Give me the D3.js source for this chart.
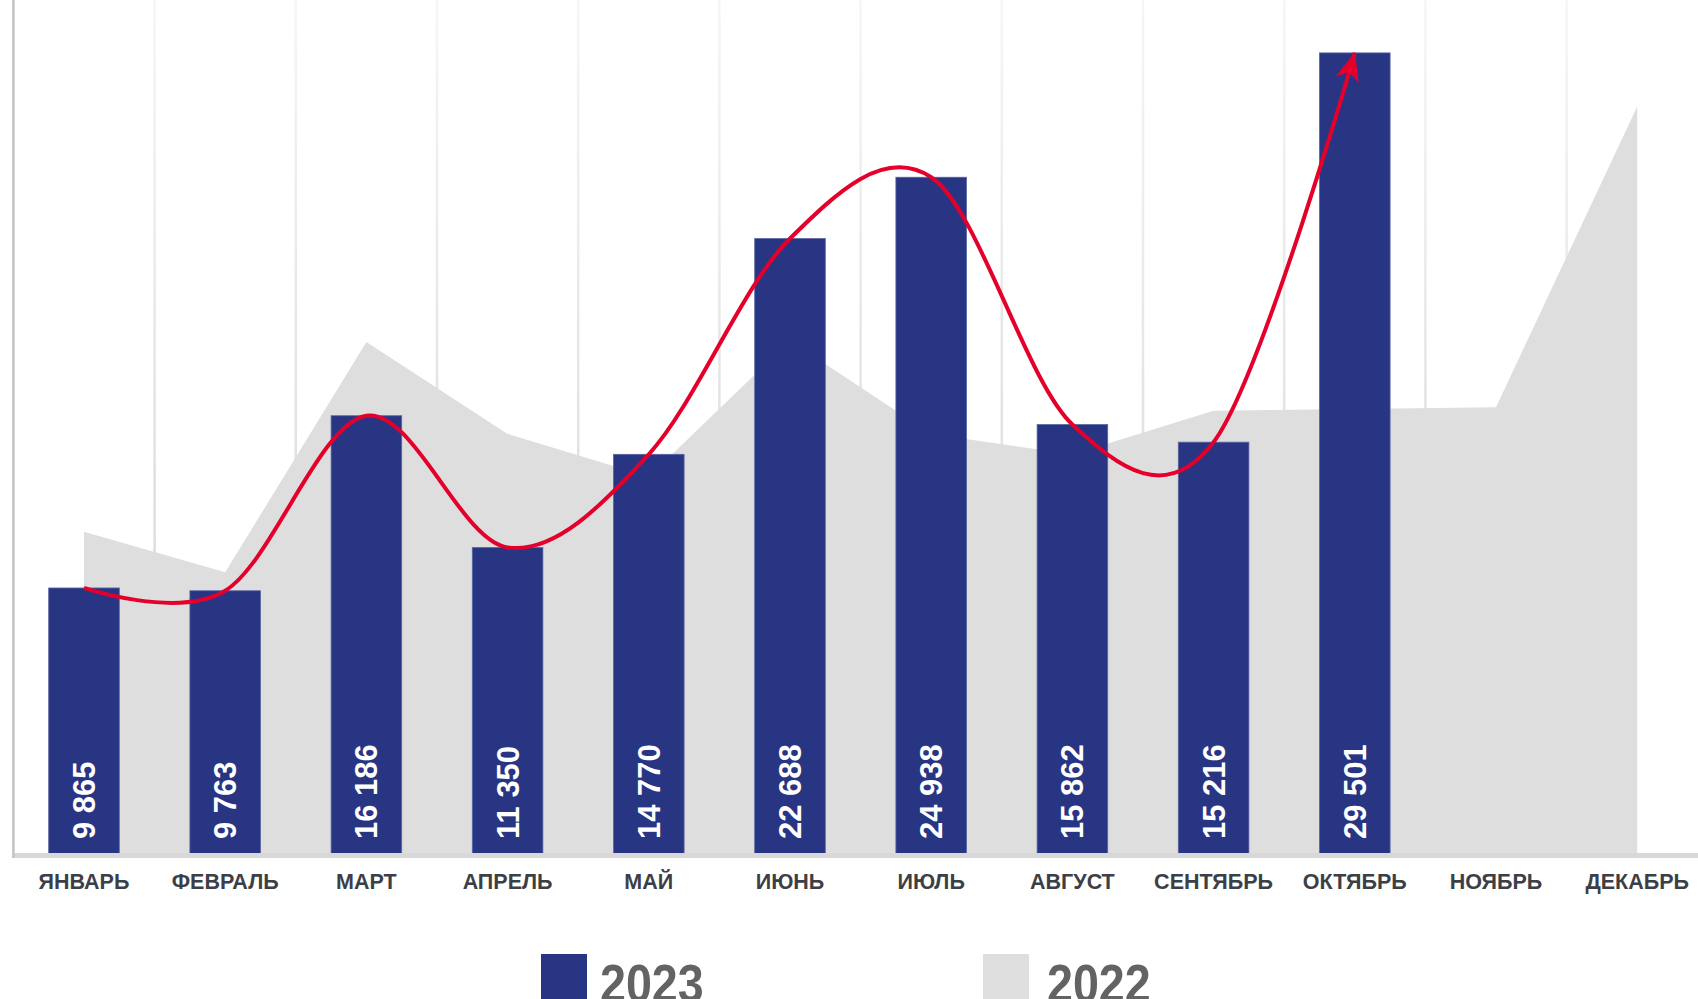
<!DOCTYPE html>
<html>
<head>
<meta charset="utf-8">
<script src="https://cdn.jsdelivr.net/npm/d3@7"></script>
<style>
  body { margin: 0; background: #fff; }
  svg { display: block; }
</style>
</head>
<body>
<div id="content"></div>
<script>
// months, 2023 bars, 2022 background area
let months = ["ЯНВАРЬ", "ФЕВРАЛЬ", "МАРТ", "АПРЕЛЬ", "МАЙ", "ИЮНЬ", "ИЮЛЬ",
              "АВГУСТ", "СЕНТЯБРЬ", "ОКТЯБРЬ", "НОЯБРЬ", "ДЕКАБРЬ"];
let values2023 = [9865, 9763, 16186, 11350, 14770, 22688, 24938, 15862, 15216, 29501];
let values2022 = [11930, 10440, 18890, 15520, 13950, 18940, 15520, 14760, 16370, 16430, 16500, 27530];
let legendLabels = ["2023", "2022"];

let width = 1698;
let height = 999;
let blue = "#283583";
let grey = "#dedede";
let red = "#e4002b";

let svg = d3.select("#content").append("svg")
            .attr("width", width)
            .attr("height", height);

let x = d3.scaleBand().domain(months).range([13.4, 1707.8])
          .paddingInner(0.5).paddingOuter(0.25);
let y = d3.scaleLinear().domain([0, 31442]).range([856.8, 0]);
let bw = x.bandwidth();
let step = x.step();
let cx = d => x(d) + bw / 2;

let fmt = d3.formatLocale({decimal: ",", thousands: " ", grouping: [3], currency: ["", ""]}).format(",");

// gradient for the vertical grid lines
let defs = svg.append("defs");
let grad = defs.append("linearGradient").attr("id", "gridfade")
               .attr("gradientUnits", "userSpaceOnUse")
               .attr("x1", 0).attr("y1", 0).attr("x2", 0).attr("y2", 856);
grad.append("stop").attr("offset", "0%").attr("stop-color", "#f6f6f6");
grad.append("stop").attr("offset", "100%").attr("stop-color", "#cfcfcf");

defs.append("marker")
    .attr("id", "arrow")
    .attr("markerUnits", "userSpaceOnUse")
    .attr("viewBox", "-30 -14 32 28")
    .attr("markerWidth", 32).attr("markerHeight", 28)
    .attr("refX", -1).attr("refY", 0)
    .attr("orient", "auto")
  .append("path")
    .attr("d", "M0,0 L-29,-12 L-21,0 L-29,12 Z")
    .attr("fill", red);

// grid lines at band boundaries
svg.append("g").selectAll("line")
   .data(months.slice(1))
   .join("line")
   .attr("x1", d => cx(d) - step / 2).attr("x2", d => cx(d) - step / 2)
   .attr("y1", 0).attr("y2", y(0))
   .attr("stroke", "url(#gridfade)")
   .attr("stroke-width", 2.5);

// 2022 area
let area = d3.area()
             .x((d, i) => cx(months[i]))
             .y0(y(0))
             .y1(d => y(d));
svg.append("path")
   .datum(values2022)
   .attr("d", area)
   .attr("fill", grey);

// 2023 bars
svg.append("g").selectAll("rect")
   .data(values2023)
   .join("rect")
   .attr("x", (d, i) => x(months[i]))
   .attr("y", d => y(d))
   .attr("width", bw)
   .attr("height", d => y(0) - y(d))
   .attr("fill", blue)
   .attr("stroke", "#5b64a3")
   .attr("stroke-width", 0.8);

// value labels inside bars
svg.append("g").selectAll("text")
   .data(values2023)
   .join("text")
   .attr("transform", (d, i) => `translate(${cx(months[i]) + 11},839) rotate(-90)`)
   .attr("font-family", "'Liberation Sans', Arial, sans-serif")
   .attr("font-weight", "bold")
   .attr("font-size", 31)
   .attr("fill", "#fff")
   .text(d => fmt(d));

// axes lines
svg.append("line")
   .attr("x1", 13).attr("x2", width)
   .attr("y1", 855.5).attr("y2", 855.5)
   .attr("stroke", "#d8d8d8").attr("stroke-width", 5);
svg.append("line")
   .attr("x1", 13.4).attr("x2", 13.4)
   .attr("y1", 0).attr("y2", 858)
   .attr("stroke", "#c4c4c4").attr("stroke-width", 2.5);

// month labels
svg.append("g").selectAll("text")
   .data(months)
   .join("text")
   .attr("x", d => cx(d))
   .attr("y", 889)
   .attr("text-anchor", "middle")
   .attr("font-family", "'Liberation Sans', Arial, sans-serif")
   .attr("font-weight", "bold")
   .attr("font-size", 21.5)
   .attr("fill", "#3d3f47")
   .text(d => d);

// red trend curve through bar tops
let trend = d3.line()
              .x((d, i) => cx(months[i]))
              .y(d => y(d))
              .curve(d3.curveCardinal.tension(0));
svg.append("path")
   .datum(values2023)
   .attr("d", trend)
   .attr("fill", "none")
   .attr("stroke", red)
   .attr("stroke-width", 4)
   .attr("marker-end", "url(#arrow)");

// legend (cut by the bottom edge, as in the original)
let legend = svg.append("g").selectAll("g")
   .data(legendLabels)
   .join("g")
   .attr("transform", (d, i) => `translate(${[541, 983][i]},954)`);
legend.append("rect")
   .attr("width", 46).attr("height", 46)
   .attr("fill", (d, i) => i == 0 ? blue : grey);
legend.append("text")
   .attr("transform", (d, i) => `translate(${[59, 64][i]},47.5) scale(0.88,1)`)
   .attr("font-family", "'Liberation Sans', Arial, sans-serif")
   .attr("font-weight", "bold")
   .attr("font-size", 53)
   .attr("fill", "#636363")
   .text(d => d);
</script>
</body>
</html>
